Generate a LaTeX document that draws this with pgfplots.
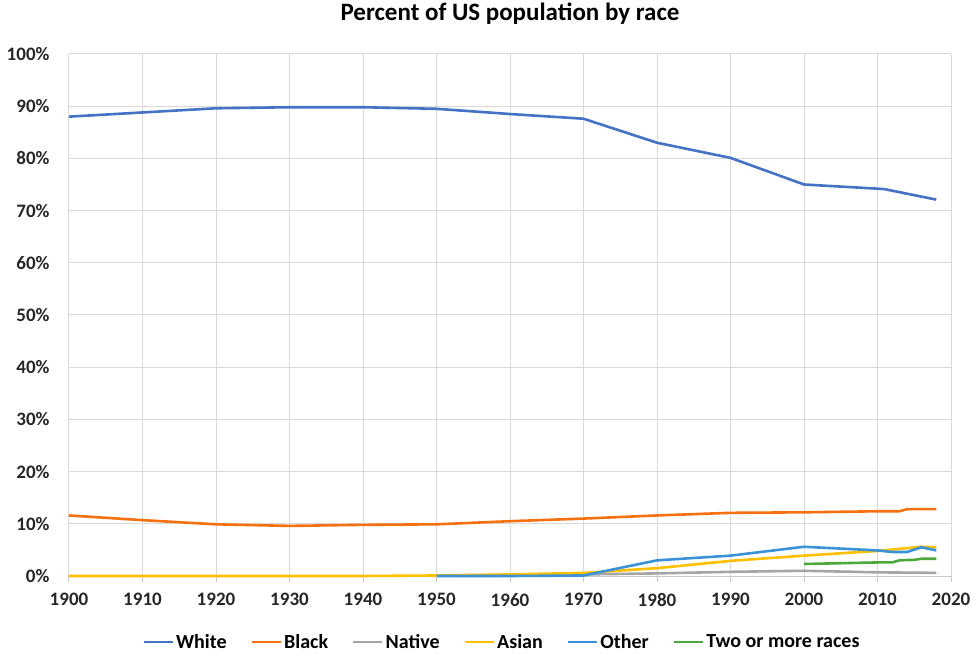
\documentclass[border=0pt]{standalone}
\usepackage{fontspec}
\setmainfont{Carlito}
\usepackage{pgfplots}
\pgfplotsset{compat=1.18}
\definecolor{cwhite}{HTML}{4472C4}
\definecolor{cblack}{HTML}{F5700F}
\definecolor{cnative}{HTML}{A5A5A5}
\definecolor{casian}{HTML}{FFC000}
\definecolor{cother}{HTML}{3A93D8}
\definecolor{ctwo}{HTML}{4CA83B}
\definecolor{cgrid}{HTML}{D9D9D9}
\begin{document}
\begin{tikzpicture}
\path[use as bounding box] (-69bp,-79bp) rectangle (904bp,576bp);
\begin{axis}[
  scale only axis, width=882bp, height=522bp,
  xmin=1900, xmax=2020, ymin=0, ymax=100,
  xtick={1900,1910,...,2020}, ytick={0,10,...,100},
  xticklabel={\pgfmathprintnumber[precision=0,1000 sep={}]{\tick}},
  yticklabel={\pgfmathprintnumber{\tick}\%},
  /pgf/number format/assume math mode=true,
  ticklabel style={font=\fontsize{19bp}{20bp}\selectfont\bfseries, text=black!85},
  xticklabel style={yshift=-8bp},
  yticklabel style={xshift=-10bp},
  grid=major, major grid style={cgrid, line width=1bp},
  axis line style={draw=none},
  xtick pos=bottom, tick align=outside, major tick length=6bp,
  xtick style={draw=cgrid!80!gray, line width=1bp},
  ytick style={draw=none},
  title={Percent of US population by race},
  title style={font=\fontsize{25bp}{27bp}\selectfont\bfseries, at={(0.5,1)}, anchor=center, yshift=34bp},
  legend columns=6,
  legend style={draw=none, fill=none, at={(0.5,0)}, anchor=center, yshift=-66bp, xshift=-8bp,
    font=\fontsize{20bp}{22bp}\selectfont\bfseries,
    /tikz/every even column/.append style={column sep=22bp}},
  legend image code/.code={\draw[#1] (0bp,0bp) -- (29bp,0bp);},
  every axis plot/.append style={line width=2.6bp, line join=round},
  clip=false,
]
\draw[cgrid!80!gray, line width=1bp] (axis cs:1900,0) -- (axis cs:2020,0);
\addplot[cwhite] coordinates {(1900,88.0) (1910,88.8) (1920,89.6) (1930,89.8) (1940,89.8) (1950,89.5) (1960,88.5) (1970,87.6) (1980,83.0) (1990,80.1) (2000,75.0) (2010,74.2) (2011,74.1) (2018,72.1)};
\addlegendentry{White}
\addplot[cblack] coordinates {(1900,11.6) (1910,10.7) (1920,9.9) (1930,9.6) (1940,9.8) (1950,9.9) (1960,10.5) (1970,11.0) (1980,11.6) (1990,12.1) (2000,12.2) (2010,12.4) (2013,12.4) (2014,12.8) (2018,12.8)};
\addlegendentry{Black}
\addplot[cnative] coordinates {(1950,0.1) (1960,0.2) (1970,0.3) (1980,0.5) (1990,0.8) (2000,1.0) (2010,0.7) (2018,0.6)};
\addlegendentry{Native}
\addplot[casian] coordinates {(1900,0) (1910,0) (1920,0) (1930,0) (1940,0) (1950,0.1) (1960,0.3) (1970,0.6) (1980,1.5) (1990,2.9) (2000,3.9) (2010,4.8) (2013,5.2) (2016,5.6) (2018,5.5)};
\addlegendentry{Asian}
\addplot[cother] coordinates {(1950,0) (1960,0) (1970,0.1) (1980,3.0) (1990,3.9) (2000,5.6) (2010,4.9) (2012,4.6) (2014,4.6) (2016,5.5) (2018,4.9)};
\addlegendentry{Other}
\addplot[ctwo] coordinates {(2000,2.3) (2010,2.6) (2012,2.6) (2013,3.0) (2015,3.1) (2016,3.3) (2018,3.3)};
\addlegendentry{Two or more races}
\end{axis}
\end{tikzpicture}
\end{document}
